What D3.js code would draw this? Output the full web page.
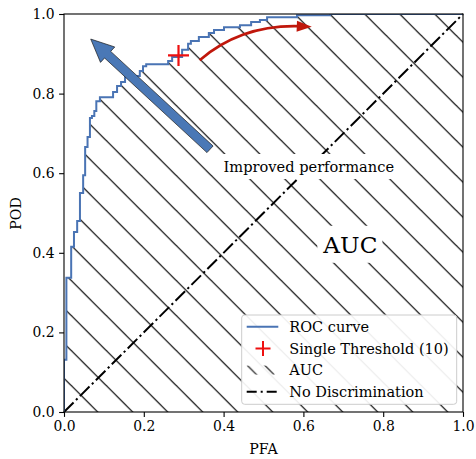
<!DOCTYPE html>
<html><head><meta charset="utf-8">
<script src="https://cdn.jsdelivr.net/npm/d3@7"></script>
<style>body{margin:0;background:#fff} svg{display:block} text{font-family:'DejaVu Serif',serif;fill:#000}</style>
</head><body><svg id="c" width="476" height="459"></svg>
<script>
// ROC step vertices (top of each vertical run)
const pfa = [0,0,0.006,0.018,0.025,0.033,0.040,0.048,0.053,0.059,0.065,0.070,0.076,0.081,0.090,0.123,0.133,0.143,0.153,0.190,0.198,0.206,0.261,0.271,0.296,0.311,0.318,0.338,0.363,0.376,0.401,0.441,0.469,0.491,0.509,0.584,0.667,1.0];
const pod = [0,0.131,0.337,0.415,0.452,0.480,0.550,0.595,0.666,0.691,0.739,0.744,0.756,0.781,0.791,0.804,0.819,0.829,0.844,0.857,0.869,0.874,0.882,0.892,0.910,0.925,0.932,0.942,0.952,0.960,0.967,0.972,0.980,0.985,0.992,0.997,1.0,1.0];
const thresholdPFA = [0.287];
const thresholdPOD = [0.896];
const diagPFA = [0, 1];
const diagPOD = [0, 1];
const xTicks = [0, 0.2, 0.4, 0.6, 0.8, 1.0];
const yTicks = [0, 0.2, 0.4, 0.6, 0.8, 1.0];
const legendLabels = ["ROC curve", "Single Threshold (10)", "AUC", "No Discrimination"];
const annTexts = ["Improved performance", "AUC"];
const annPFA = [0.4, 0.65];
const annPOD = [0.603, 0.40];
const perfArrowPFA = [0.366, 0.067];
const perfArrowPOD = [0.66, 0.937];
const threshArrowPFA = [0.340, 0.446, 0.621];
const threshArrowPOD = [0.884, 0.975, 0.968];

const svg = d3.select("#c");
const x = d3.scaleLinear([0, 1], [64, 463]);
const y = d3.scaleLinear([0, 1], [412, 14]);
const BLUE = "#4a74b4", RED = "#c0170b";

const defs = svg.append("defs");
const hp = defs.append("pattern").attr("id", "hatch").attr("patternUnits", "userSpaceOnUse")
  .attr("width", 35).attr("height", 35).attr("x", 0.7).attr("y", 0);
[[0,0,35,35],[-5,30,5,40],[30,-5,40,5]].forEach(l => hp.append("line")
  .attr("x1", l[0]).attr("y1", l[1]).attr("x2", l[2]).attr("y2", l[3])
  .attr("stroke", "#000").attr("stroke-width", 1.2));
defs.append("clipPath").attr("id", "clip").append("rect")
  .attr("x", 64).attr("y", 14).attr("width", 399).attr("height", 398);

const pts = pfa.map((d, i) => [d, pod[i]]);
// hatched AUC
svg.append("path").datum(pts)
  .attr("d", d3.area().x(d => x(d[0])).y0(y(0)).y1(d => y(d[1])).curve(d3.curveStepAfter))
  .attr("fill", "url(#hatch)").attr("clip-path", "url(#clip)");

// diagonal
const DASH = "13.5,3.4,2.2,3.4";
svg.append("path").datum(diagPFA.map((d, i) => [d, diagPOD[i]]))
  .attr("d", d3.line().x(d => x(d[0])).y(d => y(d[1])))
  .attr("stroke", "#000").attr("stroke-width", 2).attr("fill", "none").attr("stroke-dasharray", DASH);

// ROC
svg.append("path").datum(pts)
  .attr("d", d3.line().x(d => x(d[0])).y(d => y(d[1])).curve(d3.curveStepAfter))
  .attr("stroke", BLUE).attr("stroke-width", 2).attr("fill", "none").attr("clip-path", "url(#clip)");

// threshold marker
thresholdPFA.forEach((d, i) => {
  svg.append("path").attr("transform", `translate(${x(d)},${y(thresholdPOD[i])})`)
    .attr("d", "M-10.5,0H10.5M0,-10.5V10.5").attr("stroke", "#ee1010").attr("stroke-width", 2.2);
});

// blue fancy arrow
(function(){
  const x0 = x(perfArrowPFA[0]), y0 = y(perfArrowPOD[0]), x1 = x(perfArrowPFA[1]), y1 = y(perfArrowPOD[1]);
  const w = 9, hw = 21, hl = 23;
  const dx = x1 - x0, dy = y1 - y0, L = Math.hypot(dx, dy), ux = dx / L, uy = dy / L, nx = -uy, ny = ux;
  const bx = x1 - ux * hl, by = y1 - uy * hl;
  const p = [[x0 + nx*w/2, y0 + ny*w/2],[bx + nx*w/2, by + ny*w/2],[bx + nx*hw/2, by + ny*hw/2],[x1, y1],
    [bx - nx*hw/2, by - ny*hw/2],[bx - nx*w/2, by - ny*w/2],[x0 - nx*w/2, y0 - ny*w/2]];
  svg.append("path").attr("d", "M" + p.map(q => q.join(",")).join("L") + "Z")
    .attr("fill", "#4a78b6").attr("stroke", "#1a1a1a").attr("stroke-width", 0.7);
})();

// red curved arrow
(function(){
  const S = [x(threshArrowPFA[0]), y(threshArrowPOD[0])], C = [x(threshArrowPFA[1]), y(threshArrowPOD[1])], E = [x(threshArrowPFA[2]), y(threshArrowPOD[2])];
  const tx = E[0] - C[0], ty = E[1] - C[1], L = Math.hypot(tx, ty), ux = tx / L, uy = ty / L;
  const hl = 15, hw = 11;
  const bx = E[0] - ux * hl, by = E[1] - uy * hl;
  const path = d3.path(); path.moveTo(S[0], S[1]);
  const k = (L - hl * 0.7) / L;
  path.quadraticCurveTo(C[0], C[1], C[0] + tx * k, C[1] + ty * k);
  svg.append("path").attr("d", path.toString()).attr("stroke", RED).attr("stroke-width", 2.6).attr("fill", "none");
  svg.append("path").attr("d", `M${E[0]},${E[1]}L${bx - uy*hw/2},${by + ux*hw/2}L${bx + uy*hw/2},${by - ux*hw/2}Z`).attr("fill", RED);
})();

// annotations with white boxes
const annSizes = [14.6, 23.2];
annTexts.forEach((t, i) => {
  const g = svg.append("g");
  const tx = g.append("text").attr("x", x(annPFA[i])).attr("y", y(annPOD[i])).attr("font-size", annSizes[i]).text(t);
  const b = tx.node().getBBox();
  const pad = i === 0 ? 4 : 5;
  g.insert("rect", "text").attr("x", b.x - pad).attr("y", b.y - pad).attr("width", b.width + 2*pad).attr("height", b.height + 2*pad).attr("fill", "#fff");
});

// axes
const xa = svg.append("g").attr("transform", "translate(0,412)")
  .call(d3.axisBottom(x).tickValues(xTicks).tickFormat(d3.format(".1f")).tickSizeOuter(0).tickSize(4.9).tickPadding(4.5));
const ya = svg.append("g").attr("transform", "translate(64,0)")
  .call(d3.axisLeft(y).tickValues(yTicks).tickFormat(d3.format(".1f")).tickSizeOuter(0).tickSize(4.9).tickPadding(4.5));
[xa, ya].forEach(a => {
  a.select(".domain").remove();
  a.selectAll("line").attr("stroke", "#000").attr("stroke-width", 1.1);
  a.selectAll("text").attr("font-size", 13.9).attr("font-family", "'DejaVu Serif',serif").attr("fill", "#000");
});
svg.append("rect").attr("x", 64).attr("y", 14).attr("width", 399).attr("height", 398)
  .attr("fill", "none").attr("stroke", "#000").attr("stroke-width", 1.1);
svg.append("text").attr("x", 263.5).attr("y", 454).attr("text-anchor", "middle").attr("font-size", 14.2).text("PFA");
svg.append("text").attr("transform", "translate(20.5,213.5) rotate(-90)").attr("text-anchor", "middle").attr("font-size", 14.2).text("POD");

// legend
const lg = svg.append("g");
lg.append("rect").attr("x", 241.7).attr("y", 315).attr("width", 215).attr("height", 89.3).attr("rx", 3)
  .attr("fill", "#fff").attr("fill-opacity", 0.92).attr("stroke", "#cccccc").attr("stroke-width", 1);
const rowY = i => 326.7 + i * 21.7;
legendLabels.forEach((t, i) => {
  lg.append("text").attr("x", 289.3).attr("y", rowY(i)).attr("dy", "0.36em").attr("font-size", 14.5).text(t);
});
lg.append("line").attr("x1", 246.7).attr("x2", 278.3).attr("y1", rowY(0)).attr("y2", rowY(0)).attr("stroke", BLUE).attr("stroke-width", 2);
lg.append("path").attr("transform", `translate(263,${rowY(1)})`).attr("d", "M-7.5,0H7.5M0,-7.5V7.5").attr("stroke", "#ee1010").attr("stroke-width", 2);
const hs = defs.append("pattern").attr("id", "hatchS").attr("patternUnits", "userSpaceOnUse")
  .attr("width", 17.5).attr("height", 17.5).attr("x", 247.5).attr("y", rowY(2) - 4.5);
[[0,0,17.5,17.5],[-5,12.5,5,22.5],[12.5,-5,22.5,5]].forEach(l => hs.append("line")
  .attr("x1", l[0]).attr("y1", l[1]).attr("x2", l[2]).attr("y2", l[3]).attr("stroke", "#000").attr("stroke-width", 1.1));
lg.append("rect").attr("x", 246.7).attr("y", rowY(2) - 4.5).attr("width", 28).attr("height", 9).attr("fill", "url(#hatchS)");
lg.append("line").attr("x1", 246.7).attr("x2", 278.3).attr("y1", rowY(3)).attr("y2", rowY(3)).attr("stroke", "#000").attr("stroke-width", 2).attr("stroke-dasharray", "10,4,2,4");
</script></body></html>
